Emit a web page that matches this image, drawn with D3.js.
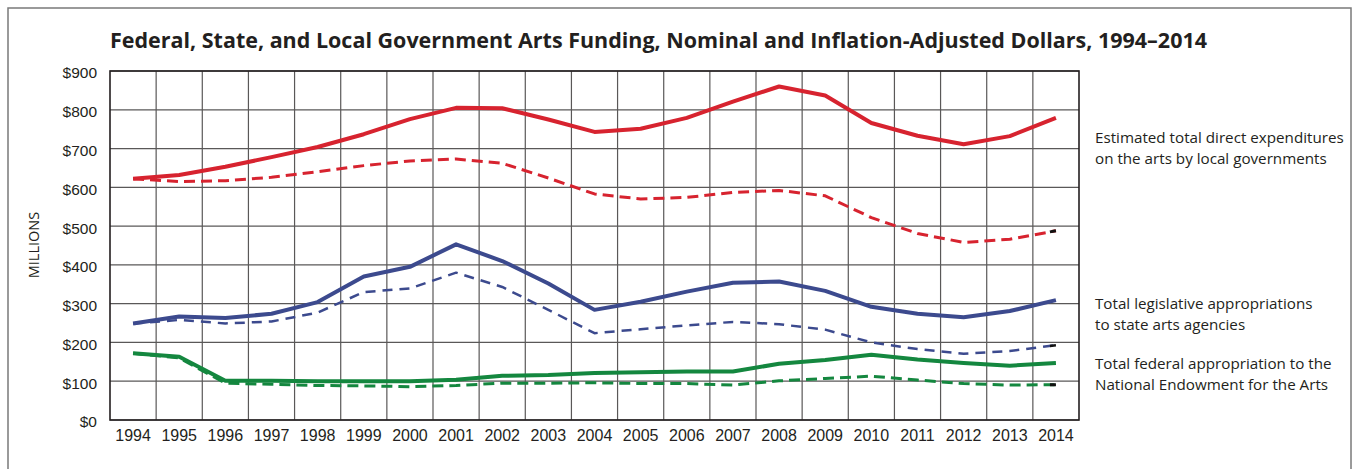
<!DOCTYPE html>
<html>
<head>
<meta charset="utf-8">
<script src="https://cdn.jsdelivr.net/npm/d3@7"></script>
<style>
  body { margin: 0; background: #fff; }
  svg { display: block; font-family: "Open Sans", "Noto Sans", sans-serif; }
</style>
</head>
<body>
<svg id="chart"></svg>
<script>
const width = 1353;
const height = 469;

const years = d3.range(1994, 2015).map(String);
const yTicks = [0, 100, 200, 300, 400, 500, 600, 700, 800, 900];

// local governments, nominal and inflation-adjusted
const localNominal  = [622, 632, 653, 678, 704, 737, 776, 805, 804, 775, 743, 751, 779, 821, 860, 837, 766, 733, 711, 732, 779];
const localAdjusted = [622, 615, 617, 626, 640, 656, 668, 673, 662, 624, 583, 570, 574, 587, 592, 578, 522, 481, 458, 466, 488];
// state arts agencies
const stateNominal  = [249, 267, 263, 274, 304, 370, 395, 453, 410, 352, 284, 305, 331, 354, 357, 333, 292, 274, 265, 281, 309];
const stateAdjusted = [249, 258, 249, 254, 277, 330, 339, 380, 343, 284, 224, 234, 244, 253, 247, 233, 200, 183, 171, 178, 193];
// National Endowment for the Arts
const neaNominal    = [172, 163, 101, 101, 100, 100, 100, 104, 114, 116, 121, 123, 125, 125, 145, 155, 168, 156, 147, 140, 147];
const neaAdjusted   = [172, 160,  95,  92,  89,  88,  86,  89,  95,  95,  96,  94,  94,  90, 101, 107, 113, 103,  94,  90,  91];

const legendLines = [
  ["Estimated total direct expenditures", "on the arts by local governments"],
  ["Total legislative appropriations", "to state arts agencies"],
  ["Total federal appropriation to the", "National Endowment for the Arts"]
];

const series = [
  {values: localAdjusted, color: "#d7232f", width: 3, dash: "11,6"},
  {values: stateAdjusted, color: "#3c4a8e", width: 2.5, dash: "10,7"},
  {values: neaAdjusted,   color: "#14873f", width: 3, dash: "11,6"},
  {values: localNominal,  color: "#d7232f", width: 4, dash: null},
  {values: stateNominal,  color: "#3c4a8e", width: 4, dash: null},
  {values: neaNominal,    color: "#14873f", width: 4, dash: null}
];

const plot = {left: 110, right: 1079, top: 71, bottom: 420};
const textColor = "#231f20";

const svg = d3.select("#chart").attr("width", width).attr("height", height);

// outer frame
svg.append("rect")
    .attr("x", 8).attr("y", 8)
    .attr("width", 1343).attr("height", 500)
    .attr("fill", "none")
    .attr("stroke", "#7a7a7a")
    .attr("stroke-width", 1.5);

svg.append("text")
    .attr("x", plot.left).attr("y", 48)
    .attr("textLength", 1097).attr("lengthAdjust", "spacingAndGlyphs")
    .style("font-size", "21.5px").style("font-weight", "bold")
    .attr("fill", textColor)
    .text("Federal, State, and Local Government Arts Funding, Nominal and Inflation-Adjusted Dollars, 1994\u20132014");

const x = d3.scaleBand().domain(years).range([plot.left, plot.right]);
const y = d3.scaleLinear().domain([0, 900]).range([plot.bottom, plot.top]);
const cx = d => x(d) + x.bandwidth() / 2;

// grid
const grid = svg.append("g").attr("stroke", "#5a5858").attr("stroke-width", 1.2);
grid.selectAll(".h").data(yTicks).enter().append("line")
    .attr("x1", plot.left).attr("x2", plot.right)
    .attr("y1", d => y(d)).attr("y2", d => y(d));
grid.selectAll(".v").data(years.slice(1)).enter().append("line")
    .attr("x1", d => x(d)).attr("x2", d => x(d))
    .attr("y1", plot.top).attr("y2", plot.bottom);

svg.append("rect")
    .attr("x", plot.left).attr("y", plot.top)
    .attr("width", plot.right - plot.left).attr("height", plot.bottom - plot.top)
    .attr("fill", "none").attr("stroke", textColor).attr("stroke-width", 1.6);

// y axis
const yAxis = svg.append("g")
    .attr("transform", `translate(${plot.left},0)`)
    .call(d3.axisLeft(y).tickValues(yTicks).tickSize(0).tickPadding(13).tickFormat(d => "$" + d));
yAxis.select(".domain").remove();
yAxis.selectAll("text").style("font-size", "15.5px").attr("dy", "0.45em").attr("fill", textColor);

svg.append("text")
    .attr("transform", `translate(39,245) rotate(-90)`)
    .attr("text-anchor", "middle")
    .style("font-size", "14.5px")
    .attr("fill", textColor)
    .text("MILLIONS");

// x axis
const xAxis = svg.append("g")
    .attr("transform", `translate(0,${plot.bottom})`)
    .call(d3.axisBottom(x).tickSize(0).tickPadding(10));
xAxis.select(".domain").remove();
xAxis.selectAll("text").style("font-size", "16px").attr("fill", textColor);

// lines
const line = d3.line()
    .x((d, i) => cx(years[i]))
    .y(d => y(d));

svg.append("g").selectAll("path").data(series).enter().append("path")
    .attr("d", d => line(d.values))
    .attr("fill", "none")
    .attr("stroke", d => d.color)
    .attr("stroke-width", d => d.width)
    .attr("stroke-dasharray", d => d.dash)
    .attr("stroke-linejoin", "round");

// black end dash on the inflation-adjusted lines
const last = years.length - 1;
svg.append("g").selectAll("line").data(series.filter(s => s.dash)).enter().append("line")
    .attr("x1", cx(years[last]) - 6)
    .attr("x2", cx(years[last]))
    .attr("y1", d => y(d.values[last]) + (y(d.values[last - 1]) - y(d.values[last])) * 6 / x.bandwidth())
    .attr("y2", d => y(d.values[last]))
    .attr("stroke", "#111")
    .attr("stroke-width", d => d.width);

// labels on the right
const legendY = [143, 309, 369];
const legend = svg.append("g").attr("fill", textColor).style("font-size", "15.2px");
legendLines.forEach((lines, i) => {
  legend.append("text")
      .attr("x", 1095).attr("y", legendY[i])
      .selectAll("tspan").data(lines).enter().append("tspan")
      .attr("x", 1095)
      .attr("dy", (d, j) => j === 0 ? 0 : 21)
      .text(d => d);
});
</script>
</body>
</html>
